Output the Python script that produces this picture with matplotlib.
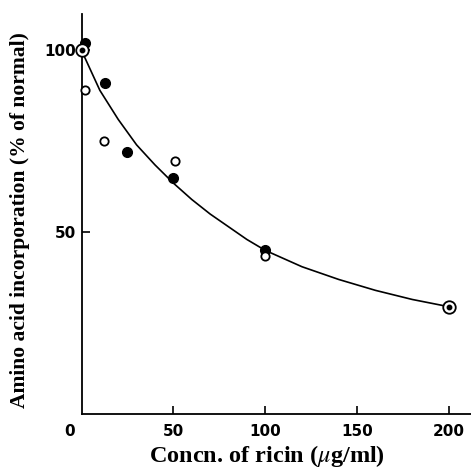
import matplotlib.pyplot as plt
import matplotlib.transforms as mtransforms

# filled circles
filled_x = [2, 13, 25, 50, 100]
filled_y = [102, 91, 72, 65, 45]
# open circles
open_x = [2, 12, 51, 100]
open_y = [89, 75, 69.5, 43.5]
# circled dots (both series coincide)
both_x = [0, 200]
both_y = [100, 29.5]
# fitted curve
curve_x = [0, 10, 20, 30, 40, 50, 60, 70, 80, 90, 100, 120, 140, 160, 180, 200]
curve_y = [100, 89, 81, 74, 68.5, 63.5, 59, 55, 51.5, 48, 45, 40.5, 37, 34, 31.5, 29.5]

x_ticks = [0, 50, 100, 150, 200]
y_ticks = [50, 100]

plt.rcParams['font.family'] = ['Liberation Serif', 'DejaVu Serif']
plt.rcParams['mathtext.fontset'] = 'stix'

fig = plt.figure(figsize=(4.71, 4.68), dpi=100)
ax = fig.add_axes([81.5 / 471, 54 / 468, (471 - 81.5) / 471, (454 - 54) / 468])

ax.plot(curve_x, curve_y, color='black', lw=1.2, zorder=2)
ax.plot(filled_x, filled_y, 'o', color='black', ms=7, zorder=3, clip_on=False)
ax.plot(open_x, open_y, 'o', mfc='white', mec='black', mew=1.3, ms=6, zorder=3, clip_on=False)
ax.plot(both_x, both_y, 'o', mfc='white', mec='black', mew=1.3, ms=9, zorder=4, clip_on=False)
ax.plot(both_x, both_y, 'o', color='black', ms=3.2, zorder=5, clip_on=False)

ax.set_xlim(0, 212)
ax.set_ylim(0, 110)
for s in ['top', 'right']:
    ax.spines[s].set_visible(False)
for s in ['left', 'bottom']:
    ax.spines[s].set_linewidth(1.3)

ax.set_xticks(x_ticks)
ax.set_yticks(y_ticks)
ax.tick_params(direction='in', length=6, width=1.2, labelsize=11)
ax.tick_params(axis='x', pad=7)
ax.tick_params(axis='y', pad=4)
for lab in ax.get_xticklabels() + ax.get_yticklabels():
    lab.set_fontweight('bold')
    lab.set_family('DejaVu Sans')
# the "0" label sits left of the axis in the original
xl0 = ax.get_xticklabels()[0]
xl0.set_transform(xl0.get_transform() + mtransforms.ScaledTranslation(-0.115, 0, fig.dpi_scale_trans))
ax.xaxis.get_major_ticks()[0].tick1line.set_visible(False)

ax.set_xlabel('Concn. of ricin ($\\mathit{\\mu}$g/ml)', fontsize=17.5, fontweight='bold', va='center')
ax.xaxis.set_label_coords(0.476, -0.105)
ax.set_ylabel('Amino acid incorporation (% of normal)', fontsize=15.5, fontweight='bold', va='center')
ax.yaxis.set_label_coords(-0.158, 0.485)

fig.savefig('out.png', dpi=100)
